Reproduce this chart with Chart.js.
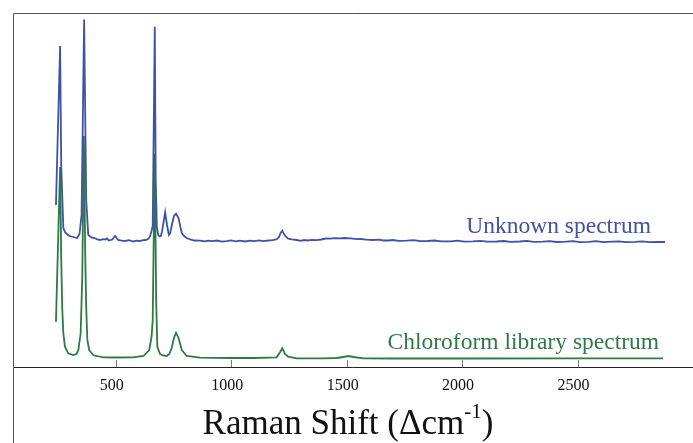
<!DOCTYPE html>
<html lang="en">
<head>
  <meta charset="UTF-8">
  <title>Raman Spectrum Comparison</title>
  <script src="https://cdn.jsdelivr.net/npm/chart.js"></script>
  <style>
    html, body { margin: 0; padding: 0; background: #fff; }
    #chart { display: block; }
  </style>
</head>
<body>
  <canvas id="chart" width="693" height="443"></canvas>

  <script>
    // Raman shift (cm-1) and intensity (arbitrary units)
    const unknownShift = [241, 259, 264, 273, 280, 288, 300, 316, 333, 343, 352, 363, 372, 381, 395, 410, 420, 432, 445, 455, 462, 470, 485, 497, 510, 525, 540, 557, 575, 590, 605, 620, 630, 640, 648, 655, 660, 669, 673, 678, 684, 690, 695, 700, 705, 714, 722, 730, 736, 742, 752, 761, 772, 780, 786, 796, 807, 822, 840, 865, 885, 900, 920, 937, 960, 980, 1000, 1020, 1038, 1060, 1080, 1100, 1120, 1140, 1160, 1180, 1197, 1207, 1214, 1221, 1228, 1236, 1247, 1262, 1284, 1300, 1315, 1330, 1350, 1370, 1390, 1410, 1428, 1450, 1470, 1490, 1515, 1535, 1560, 1585, 1614, 1640, 1660, 1680, 1700, 1725, 1760, 1790, 1820, 1850, 1880, 1910, 1950, 1980, 2010, 2047, 2080, 2110, 2150, 2180, 2210, 2250, 2280, 2310, 2350, 2380, 2410, 2450, 2480, 2510, 2550, 2580, 2610, 2650, 2680, 2710, 2750, 2780, 2810, 2850, 2879];
    const unknownIntensity = [162, 321, 200, 139, 135, 133, 131, 130, 129, 133, 152, 347.5, 167, 132, 129.5, 128.7, 127.6, 127, 127.8, 127.5, 128.5, 126.5, 127.5, 131, 127, 126.4, 126, 126.8, 125.5, 126.3, 126, 126.8, 127, 128, 130.3, 136, 141, 340.3, 187, 140, 132, 130.5, 131, 135, 142, 154.7, 142, 132, 134, 141, 151, 153.3, 149, 140, 134, 131, 129, 127.7, 126.5, 126.3, 125.6, 126.4, 125.8, 126.5, 125.4, 125.9, 126.6, 125.7, 126.3, 125.5, 126.4, 125.8, 126.6, 125.9, 126.5, 126.8, 127.7, 130, 134, 136.3, 133, 130.5, 128.3, 127.6, 127, 126.2, 127, 126.5, 127.2, 126.8, 127.5, 128.5, 128.3, 128.9, 128.7, 129, 128.7, 128.2, 128, 127.4, 127, 127.3, 126.5, 126.5, 127, 126.2, 126.3, 126.8, 125.8, 126, 126.5, 125.6, 125.7, 126.3, 125.4, 125.7, 126.2, 125.3, 125.5, 126, 125.2, 125.5, 126.1, 125.1, 125.3, 125.9, 125, 125.4, 125.9, 124.9, 125.2, 125.8, 124.9, 125.3, 125.7, 124.8, 125.1, 125.6, 124.8, 125.2, 125];

    const libraryShift = [241, 259, 264, 268, 273, 280, 294, 316, 330, 338, 348, 355, 362, 368, 372, 377, 385, 403, 446, 500, 575, 620, 645, 655, 660, 669, 675, 680, 692, 705, 721, 732, 742, 752, 761, 772, 786, 807, 865, 1000, 1100, 1197, 1212, 1221, 1233, 1247, 1284, 1400, 1457, 1485, 1507, 1530, 1572, 1700, 2000, 2500, 2870];
    const libraryIntensity = [45.3, 200, 107, 60, 33.7, 20.3, 13.7, 12, 13, 17, 33.7, 90, 231, 110, 60, 27, 17, 11.7, 9.7, 9.5, 9.7, 11, 17, 30, 47, 213, 67, 20.3, 13, 11.5, 11, 13, 18.7, 29, 34.3, 29, 17, 11, 9.3, 9, 9, 9.7, 15, 18.7, 13, 10.3, 8.7, 8.7, 9, 10, 11, 10, 8.7, 8.5, 8.5, 8.6, 8.7];

    const tickValues = [500, 1000, 1500, 2000, 2500];
    const seriesNames = ['Unknown spectrum', 'Chloroform library spectrum'];

    const blue = '#3f52a8';
    const green = '#2e7a45';

    function toPoints(xs, ys) {
      return xs.map((x, i) => ({ x: x, y: ys[i] }));
    }

    // box lines, inward tick marks, series captions and the axis title
    const decorations = {
      id: 'decorations',
      afterDraw(chart) {
        const ctx = chart.ctx;
        const area = chart.chartArea;
        const xs = chart.scales.x;
        const ys = chart.scales.y;
        ctx.save();

        ctx.strokeStyle = '#555';
        ctx.lineWidth = 1;
        ctx.beginPath();
        ctx.moveTo(area.left + 0.5, chart.height);
        ctx.lineTo(area.left + 0.5, area.top + 0.5);
        ctx.lineTo(chart.width, area.top + 0.5);
        ctx.stroke();

        ctx.strokeStyle = '#777';
        ctx.beginPath();
        for (const t of xs.ticks) {
          const px = Math.round(xs.getPixelForValue(t.value)) + 0.5;
          ctx.moveTo(px, area.bottom);
          ctx.lineTo(px, area.bottom - 7);
        }
        ctx.stroke();

        ctx.font = '23.5px "Liberation Serif", serif';
        ctx.textAlign = 'right';
        ctx.textBaseline = 'alphabetic';
        ctx.fillStyle = blue;
        ctx.fillText(seriesNames[0], xs.getPixelForValue(2818), ys.getPixelForValue(134.3));
        ctx.fillStyle = green;
        ctx.fillText(seriesNames[1], xs.getPixelForValue(2853), ys.getPixelForValue(17.7));

        // "Raman Shift (Δcm-1)" with a raised -1
        const mainFont = '35px "Liberation Serif", serif';
        const supFont = '21px "Liberation Serif", serif';
        const partA = 'Raman Shift (\u0394cm';
        const sup = '-1';
        const partB = ')';
        ctx.font = mainFont;
        const wA = ctx.measureText(partA).width;
        const wB = ctx.measureText(partB).width;
        ctx.font = supFont;
        const wS = ctx.measureText(sup).width;
        let x = 348 - (wA + wS + wB) / 2;
        const base = 434;
        ctx.textAlign = 'left';
        ctx.fillStyle = '#111';
        ctx.font = mainFont;
        ctx.fillText(partA, x, base);
        x += wA;
        ctx.font = supFont;
        ctx.fillText(sup, x, base - 16);
        x += wS;
        ctx.font = mainFont;
        ctx.fillText(partB, x, base);

        ctx.restore();
      }
    };

    new Chart(document.getElementById('chart'), {
      type: 'line',
      data: {
        datasets: [
          {
            label: seriesNames[0],
            data: toPoints(unknownShift, unknownIntensity),
            borderColor: blue,
            borderWidth: 1.8,
            pointRadius: 0,
            tension: 0,
            fill: false
          },
          {
            label: seriesNames[1],
            data: toPoints(libraryShift, libraryIntensity),
            borderColor: green,
            borderWidth: 1.8,
            pointRadius: 0,
            tension: 0,
            fill: false
          }
        ]
      },
      options: {
        responsive: false,
        animation: false,
        events: [],
        layout: { padding: { left: 13, top: 13, right: 0, bottom: 0 } },
        plugins: {
          legend: { display: false },
          tooltip: { enabled: false }
        },
        scales: {
          x: {
            type: 'linear',
            min: 55,
            max: 3000,
            afterBuildTicks(scale) {
              scale.ticks = tickValues.map(v => ({ value: v }));
            },
            afterFit(scale) {
              scale.height = 76;
            },
            grid: { drawOnChartArea: false, drawTicks: false },
            border: { display: true, color: '#222', width: 1 },
            ticks: {
              padding: 9,
              labelOffset: -4,
              color: '#111',
              font: { family: '"Liberation Serif", serif', size: 16 },
              callback: v => String(v)
            }
          },
          y: {
            display: false,
            min: 0,
            max: 354
          }
        }
      },
      plugins: [decorations]
    });
  </script>
</body>
</html>
